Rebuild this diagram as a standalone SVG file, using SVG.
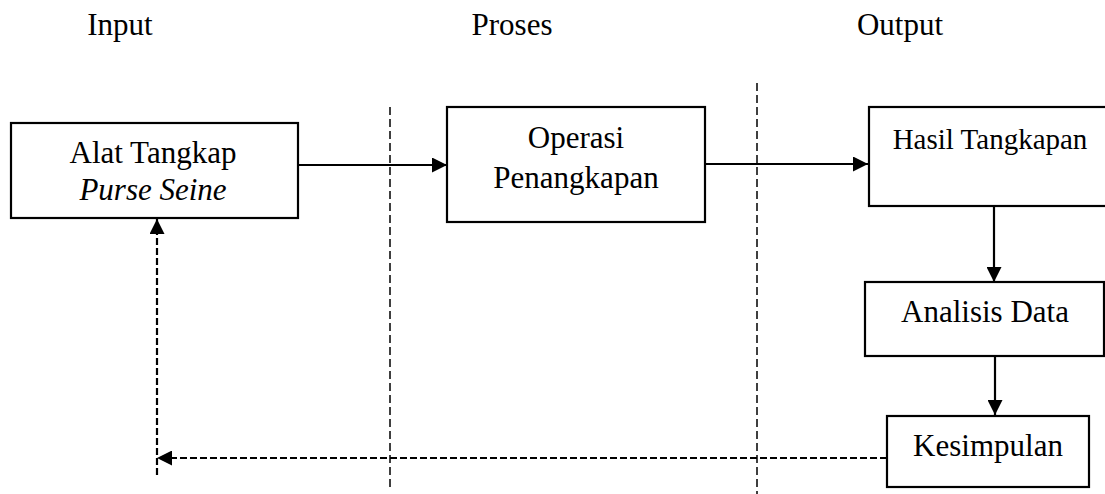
<svg xmlns="http://www.w3.org/2000/svg" width="1105" height="494" viewBox="0 0 1105 494">
<style>
text{font-family:"Liberation Serif","Times New Roman",serif;fill:#000;text-anchor:middle}
.t{font-size:31px}
.box{fill:#fff;stroke:#000;stroke-width:2.2}
.arr{stroke:#000;stroke-width:2.2;fill:none}
.fb{stroke:#000;stroke-width:2.2;fill:none;stroke-dasharray:7,3}
.div{stroke:#000;stroke-width:1.5;fill:none;stroke-dasharray:8,4}
</style>
<defs>
<marker id="ah" viewBox="0 0 10 10" refX="10" refY="5" markerWidth="15" markerHeight="15" markerUnits="userSpaceOnUse" orient="auto">
<path d="M0,0 L10,5 L0,10 Z" fill="#000"/>
</marker>
</defs>
<g id="headers">
<text class="t" x="120" y="35">Input</text>
<text class="t" x="512" y="35">Proses</text>
<text class="t" x="900" y="35">Output</text>
</g>
<g id="dividers">
<line class="div" x1="390" y1="107" x2="390" y2="488"/>
<line class="div" x1="757" y1="83" x2="757" y2="494"/>
</g>
<g id="connectors">
<line class="arr" x1="291" y1="165" x2="447" y2="165" marker-end="url(#ah)"/>
<line class="arr" x1="705" y1="164" x2="868" y2="164" marker-end="url(#ah)"/>
<line class="arr" x1="994" y1="206" x2="994" y2="282" marker-end="url(#ah)"/>
<line class="arr" x1="995" y1="356" x2="995" y2="415" marker-end="url(#ah)"/>
<line class="fb" x1="887" y1="458" x2="157" y2="458" marker-end="url(#ah)"/>
<line class="fb" x1="157" y1="475" x2="157" y2="219" marker-end="url(#ah)"/>
</g>
<g id="node-alat">
<rect class="box" x="11" y="123" width="287" height="95"/>
<text class="t" x="153" y="163">Alat Tangkap</text>
<text class="t" x="153" y="200" font-style="italic">Purse Seine</text>
</g>
<g id="node-operasi">
<rect class="box" x="447" y="107" width="258" height="115"/>
<text class="t" x="576" y="148">Operasi</text>
<text class="t" x="576" y="188">Penangkapan</text>
</g>
<g id="node-hasil">
<rect class="box" x="869" y="107" width="240" height="99"/>
<text x="990" y="149" font-size="29">Hasil Tangkapan</text>
</g>
<g id="node-analisis">
<rect class="box" x="865" y="282" width="239" height="74"/>
<text class="t" x="985" y="322">Analisis Data</text>
</g>
<g id="node-kesimpulan">
<rect class="box" x="887" y="416" width="202" height="71"/>
<text class="t" x="988" y="456">Kesimpulan</text>
</g>
</svg>
